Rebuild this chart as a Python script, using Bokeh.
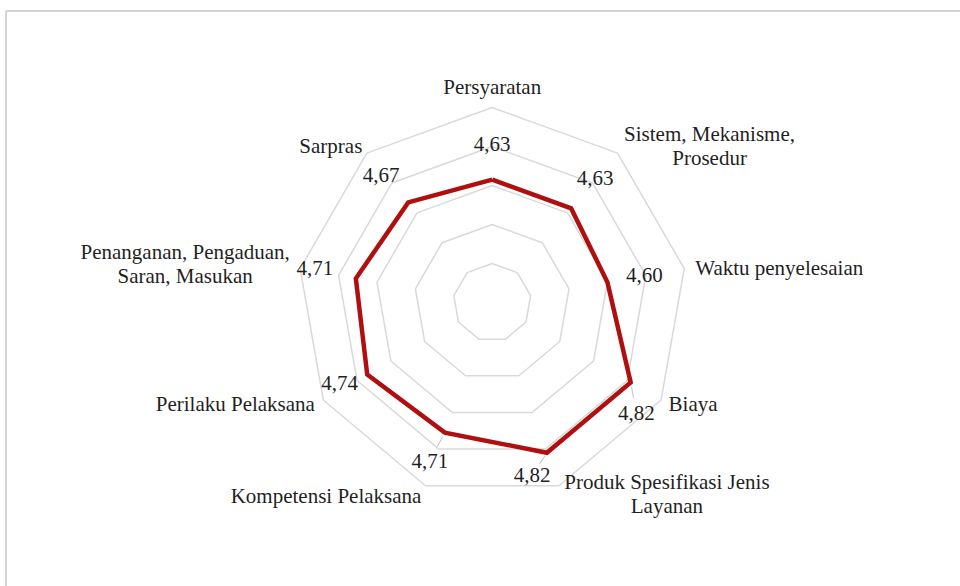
import numpy as np
from bokeh.plotting import figure
from bokeh.models import Range1d, ColumnDataSource
from bokeh.core.properties import value
from bokeh.embed import file_html
from bokeh.resources import INLINE

# ---- data ----
categories = [
    ["Persyaratan"],
    ["Sistem, Mekanisme,", "Prosedur"],
    ["Waktu penyelesaian"],
    ["Biaya"],
    ["Produk Spesifikasi Jenis", "Layanan"],
    ["Kompetensi Pelaksana"],
    ["Perilaku Pelaksana"],
    ["Penanganan, Pengaduan,", "Saran, Masukan"],
    ["Sarpras"],
]
scores = [4.63, 4.63, 4.60, 4.82, 4.82, 4.71, 4.74, 4.71, 4.67]
ring_values = [4.2, 4.4, 4.6, 4.8, 5.0]
axis_min, axis_max = 4.0, 5.0

# ---- layout (pixels) ----
W, H = 960, 586
MARGIN = 0                        # page offset of the figure
CXP, CYP = 491.7, 302.0          # page position of radar centre
R_OUT = 195.0                    # pixel radius of axis_max
FONT = value("Liberation Serif")
FS = "21px"
TXT = "#1f1f1f"
LINE_H = 24

# data coordinates = pixels relative to centre (y up)
x0 = MARGIN - CXP
y_top = CYP - MARGIN
p = figure(width=W, height=H, output_backend="svg", toolbar_location=None,
           x_range=Range1d(x0, x0 + W), y_range=Range1d(y_top - H, y_top),
           min_border=0, outline_line_color=None, background_fill_color="white",
           border_fill_color="white")
p.axis.visible = False
p.grid.visible = False

n = len(scores)
angles = np.deg2rad(90 - 360.0 / n * np.arange(n))


def radius(v):
    return (np.asarray(v) - axis_min) / (axis_max - axis_min) * R_OUT


# frame edges (top and left visible in reference)
fx = 5.5 - CXP
fy = CYP - 10.5
p.line([fx, x0 + W], [fy, fy], line_color="#d4d4d4", line_width=2)
p.line([fx, fx], [fy, y_top - H], line_color="#d4d4d4", line_width=2)

# grid rings
for rv in ring_values:
    r = radius(rv)
    xs = list(r * np.cos(angles)) + [r * np.cos(angles[0])]
    ys = list(r * np.sin(angles)) + [r * np.sin(angles[0])]
    p.line(xs, ys, line_color="#d9d9d9", line_width=1.5)

# data series
rs = radius(scores)
px = rs * np.cos(angles)
py = rs * np.sin(angles)

# value labels (offsets in px, page direction: dy positive = down)
val_off = [(0, -36), (24, -30), (37, -7), (5.6, 30.5), (-14.7, 22.7),
           (-15, 28), (-27.7, 8.3), (-41, -10), (-27, -27)]
leaders = [3, 4, 5]
for i in leaders:
    dx, dy = val_off[i]
    p.line([px[i] + 0.15 * dx, px[i] + 0.5 * dx], [py[i] - 0.15 * dy, py[i] - 0.5 * dy],
           line_color="#bfbfbf", line_width=1)

p.line(list(px) + [px[0]], list(py) + [py[0]], line_color="#b00f0f", line_width=4.5,
       line_join="miter")

vsrc = ColumnDataSource(dict(
    x=[px[i] + val_off[i][0] for i in range(n)],
    y=[py[i] - val_off[i][1] for i in range(n)],
    t=[f"{s:.2f}".replace(".", ",") for s in scores],
))
p.text("x", "y", text="t", source=vsrc, text_font=FONT, text_font_size=FS,
       text_color=TXT, text_align="center", text_baseline="middle")

# category labels: block centre offsets from the outer vertex (px, down positive)
cat_off = [(0, -21), (92, -7), (95, -1), (32, 3.5), (108, 8),
           (-99.5, 10), (-88, 3.5), (-115, -5), (-36, -7.5)]
cx_list, cy_list, ct_list = [], [], []
for i in range(n):
    vx = R_OUT * np.cos(angles[i])
    vy = R_OUT * np.sin(angles[i])
    lines = categories[i]
    bx = vx + cat_off[i][0]
    by = vy - cat_off[i][1]
    k = len(lines)
    for j, ln in enumerate(lines):
        cx_list.append(bx)
        cy_list.append(by + (k - 1) / 2 * LINE_H - j * LINE_H)
        ct_list.append(ln)
csrc = ColumnDataSource(dict(x=cx_list, y=cy_list, t=ct_list))
p.text("x", "y", text="t", source=csrc, text_font=FONT, text_font_size=FS,
       text_color=TXT, text_align="center", text_baseline="middle")

open("out.html", "w").write(file_html(p, INLINE))
